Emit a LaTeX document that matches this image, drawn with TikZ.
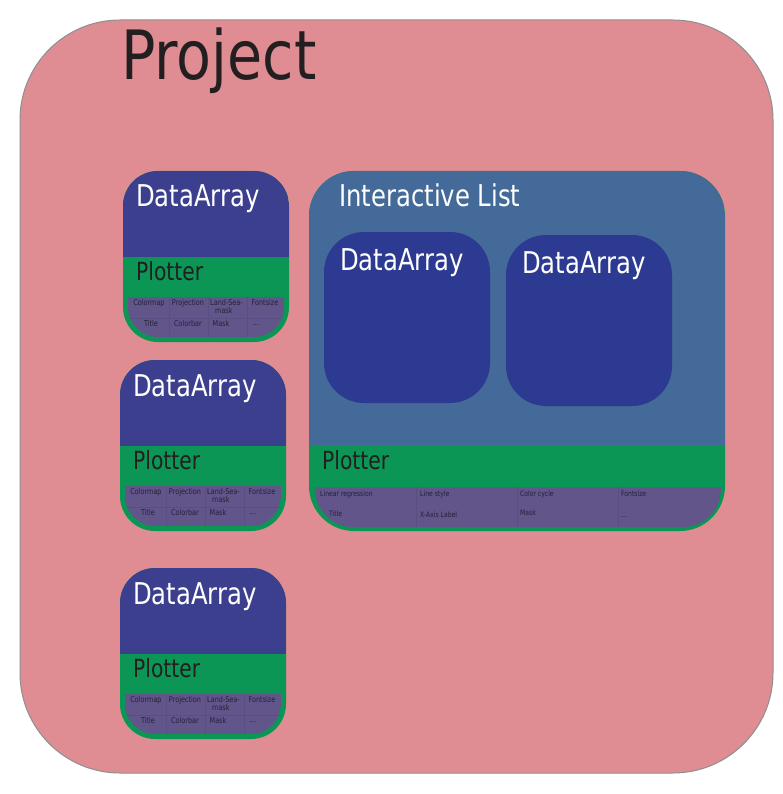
\documentclass[tikz,border=0pt]{standalone}
\usepackage{fontspec}
\setmainfont{DejaVu Sans}[FakeStretch=0.81]
\newfontfamily\projfont{DejaVu Sans}[FakeStretch=0.84]
\definecolor{projpink}{HTML}{DF8C93}
\definecolor{projborder}{HTML}{8F8F8F}
\definecolor{dablue}{HTML}{3C3F8E}
\definecolor{innerblue}{HTML}{2D3A91}
\definecolor{ilblue}{HTML}{436A98}
\definecolor{plgreen}{HTML}{0B9655}
\definecolor{tabpurple}{HTML}{62558A}
\definecolor{gridc}{HTML}{5A4F84}
\definecolor{darktext}{HTML}{231F20}
\definecolor{tabtext}{HTML}{24203A}
\tikzset{
  title/.style={anchor=base west, inner sep=0, text=white, font=\fontsize{30}{30}\selectfont},
  plotlabel/.style={anchor=base west, inner sep=0, text=darktext, font=\fontsize{25}{25}\selectfont},
  cell/.style={inner sep=0, text=tabtext, font=\fontsize{8}{8.5}\selectfont, align=center},
  lcell/.style={anchor=base west, inner sep=0, text=tabtext, font=\fontsize{7.5}{8}\selectfont},
  gridline/.style={draw=gridc, line width=0.5pt}
}
\newcommand\dabox[3]{%
\begin{scope}[shift={(#2,#3)}]
  \fill[plgreen, rounded corners=35] (0,0) rectangle (166,171);
  \begin{scope}
    \clip[rounded corners=35] (0,0) rectangle (166,171);
    \fill[dablue] (0,0) rectangle (166,86);
  \end{scope}
  \begin{scope}
    \clip[rounded corners=30] (5,0) rectangle (161,166);
    \fill[tabpurple] (5,126) rectangle (161,166);
    \draw[gridline] (5,147) -- (161,147);
    \draw[gridline] (46,126) -- (46,166);
    \draw[gridline] (85,126) -- (85,166);
    \draw[gridline] (124,126) -- (124,166);
  \end{scope}
  \node[title] (#1-da) at (13,36) {DataArray};
  \node[plotlabel] (#1-pl) at (13,109) {Plotter};
  \node[cell] (#1-c1) at (26,132) {Colormap};
  \node[cell] (#1-c2) at (65,132) {Projection};
  \node[cell, align=left, anchor=north west] (#1-c3) at (87,128) {Land-Sea-\\\hspace*{5pt}mask};
  \node[cell] (#1-c4) at (142,132) {Fontsize};
  \node[cell] (#1-c5) at (28,153) {Title};
  \node[cell] (#1-c6) at (65,153) {Colorbar};
  \node[cell] (#1-c7) at (98,153) {Mask};
  \node[cell] (#1-c8) at (133,154) {...};
\end{scope}}
\begin{document}
\begin{tikzpicture}[x=1pt,y=-1pt]
\useasboundingbox (0,0) rectangle (783,794);
% project
\draw[draw=projborder, line width=1pt, fill=projpink, rounded corners=100] (20,20) rectangle (773,773);
\node[anchor=base west, inner sep=0, text=darktext, font=\projfont\fontsize{68}{68}\selectfont] (proj) at (121,80) {Project};
% small boxes
\dabox{a}{123}{171}
\dabox{b}{120}{360}
\dabox{c}{120}{568}
% interactive list
\fill[plgreen, rounded corners=45] (309,171) rectangle (725,531);
\begin{scope}
  \clip[rounded corners=45] (309,171) rectangle (725,531);
  \fill[ilblue] (309,171) rectangle (725,445);
\end{scope}
\begin{scope}
  \clip[rounded corners=38] (315,400) rectangle (721,527);
  \fill[tabpurple] (315,487) rectangle (721,527);
  \draw[gridline] (416,487) -- (416,527);
  \draw[gridline] (517,487) -- (517,527);
  \draw[gridline] (618,487) -- (618,527);
\end{scope}
\node[title] (il) at (339,207) {Interactive List};
\fill[innerblue, rounded corners=40] (324,232) rectangle (490,403);
\fill[innerblue, rounded corners=40] (506,235) rectangle (672,406);
\node[title] (ida1) at (340,270) {DataArray};
\node[title] (ida2) at (522,273) {DataArray};
\node[plotlabel] (ilpl) at (322,469) {Plotter};
\node[lcell] (l1) at (320,496) {Linear regression};
\node[lcell] (l2) at (420,496) {Line style};
\node[lcell] (l3) at (520,496) {Color cycle};
\node[lcell] (l4) at (621,496) {Fontsize};
\node[lcell] (l5) at (329,516) {Title};
\node[lcell] (l6) at (420,517) {X-Axis Label};
\node[lcell] (l7) at (520,515) {Mask};
\node[lcell] (l8) at (621,517) {...};
\end{tikzpicture}
\end{document}
